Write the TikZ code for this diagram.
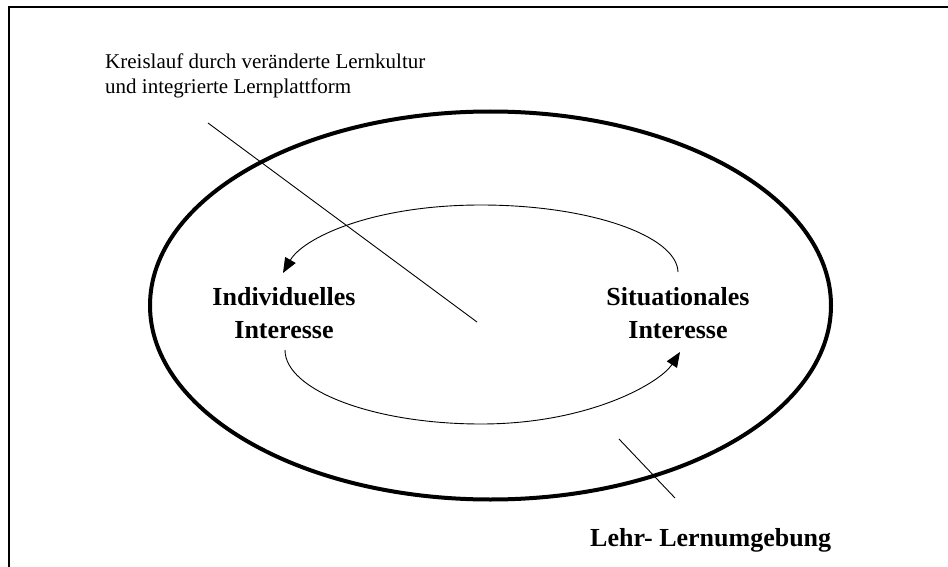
\documentclass[tikz,border=0pt]{standalone}
\usepackage{fontspec}
\setmainfont{Liberation Serif}
\usetikzlibrary{arrows.meta}
\begin{document}
\begin{tikzpicture}[x=1pt,y=-1pt,
  thinline/.style={line width=0.9pt},
  cycarrow/.style={line width=0.9pt,-{Triangle[length=15pt,width=12pt]}},
  boldlabel/.style={font=\fontsize{26}{33.5}\selectfont\bfseries,align=center,inner sep=0pt},
  note/.style={font=\fontsize{21}{25}\selectfont,align=left,inner sep=0pt}]
\useasboundingbox (0,0) rectangle (948,567);
% frame
\draw[line width=2.2pt] (8.7,567) -- (8.7,7) -- (948,7);
% outer ellipse (learning environment)
\draw[line width=4pt] (490.5,305.5) ellipse [x radius=340.5, y radius=194];
% labels
\node[boldlabel] (indiv) at (284,313) {Individuelles\\Interesse};
\node[boldlabel] (situ) at (678,313) {Situationales\\Interesse};
\node[note,anchor=north west] (kreis) at (105,53.7) {Kreislauf durch veränderte Lernkultur\\und integrierte Lernplattform};
\node[font=\fontsize{26}{30}\selectfont\bfseries,inner sep=0pt,anchor=base west] (lehr) at (590,546) {Lehr- Lernumgebung};
% leader lines
\coordinate (k1) at (208,123);
\coordinate (k2) at (477,322);
\draw[thinline] (k1) -- (k2);
\coordinate (l1) at (619,439);
\coordinate (l2) at (675,498);
\draw[thinline] (l1) -- (l2);
% cycle arrows
\coordinate (u1) at (678,272);
\coordinate (u2) at (283,273);
\draw[cycarrow] (u1) .. controls (677,236) and (590,205) .. (481,205) .. controls (372,205) and (303,238) .. (u2);
\coordinate (d1) at (285,350);
\coordinate (d2) at (680,352);
\draw[cycarrow] (d1) .. controls (285,390) and (373,424) .. (481,424) .. controls (589,424) and (660,383) .. (d2);
\end{tikzpicture}
\end{document}
